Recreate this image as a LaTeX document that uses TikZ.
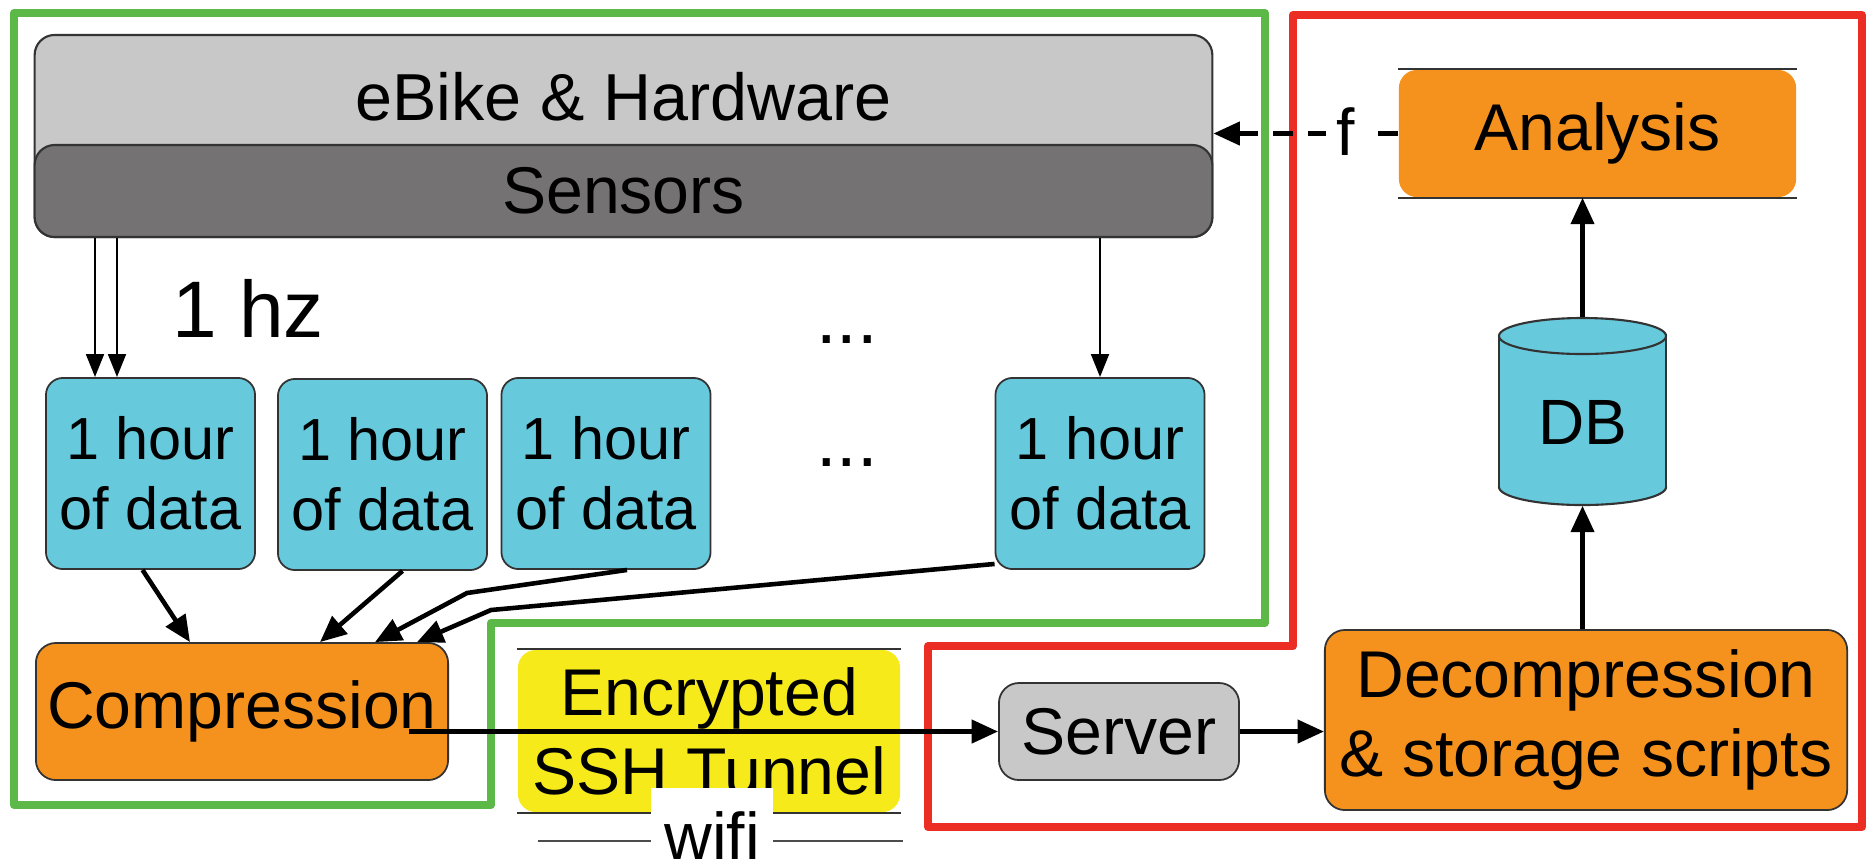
\documentclass[tikz,border=0pt]{standalone}
\usepackage{fontspec}
\setmainfont{Liberation Sans}
\usetikzlibrary{arrows.meta,calc}
\definecolor{cyanb}{HTML}{67C9DC}
\definecolor{orng}{HTML}{F5921E}
\definecolor{yel}{HTML}{F6EA1A}
\definecolor{lgray}{HTML}{C8C8C8}
\definecolor{dgray}{HTML}{747273}
\definecolor{frgreen}{HTML}{5CB948}
\definecolor{frred}{HTML}{EC2D24}
\definecolor{bordc}{HTML}{333333}
\begin{document}
\begin{tikzpicture}[x=0.01cm,y=-0.01cm,
  base/.style={font=\fontsize{18.8}{22.5}\selectfont, inner sep=0pt, align=center},
  plate/.style={base, rounded corners=0.2cm, draw=bordc, line width=0.6pt},
  databox/.style={base, rounded corners=0.17cm, fill=cyanb, draw=bordc, line width=0.5pt,
    minimum width=2.09cm, minimum height=1.91cm, font=\fontsize{16.9}{19.9}\selectfont},
  orangebox/.style={base, rounded corners=0.2cm, fill=orng, draw=bordc, line width=0.5pt},
  graybox/.style={base, rounded corners=0.2cm, fill=lgray, draw=bordc, line width=0.5pt},
  tube/.style={base, rounded corners=0.18cm},
  tubeline/.style={draw=bordc, line width=0.5pt},
  frame/.style={line width=2.3pt, line join=round},
  arr/.style={line width=1.3pt, -{Triangle[length=7.5pt,width=6.5pt]}},
  thinarr/.style={line width=0.8pt, -{Triangle[length=6.5pt,width=5pt]}},
  wifiline/.style={draw=black!70, line width=0.4pt}
]
\useasboundingbox (0,0) rectangle (1874,866);

% frames
\draw[frame, draw=frgreen] (14,13) -- (1265,13) -- (1265,623) -- (491,623) -- (491,805) -- (14,805) -- cycle;
\draw[frame, draw=frred] (1293,15) -- (1862,15) -- (1862,827) -- (928,827) -- (928,646) -- (1293,646) -- cycle;

% eBike and sensors
\node[plate, fill=lgray, minimum width=11.77cm, minimum height=2.02cm] (ebike) at (623.5,136) {};
\node[plate, fill=dgray, minimum width=11.77cm, minimum height=0.92cm] (sensors) at (623.5,191) {Sensors};
\node[base, font=\fontsize{18.9}{22}\selectfont] (ebtxt) at (623.5,97) {eBike \& Hardware};

% data boxes
\node[databox] (d1) at (150.5,473.5) {1 hour\\of data};
\node[databox] (d2) at (382.5,474.5) {1 hour\\of data};
\node[databox] (d3) at (606,473.5) {1 hour\\of data};
\node[databox] (d4) at (1100,473.5) {1 hour\\of data};

\node[base, font=\fontsize{22.8}{27}\selectfont] (hz) at (248,308) {1 hz};
\node[base, font=\fontsize{21}{24}\selectfont] (dots1) at (847,340) {...};
\node[base, font=\fontsize{21}{24}\selectfont] (dots2) at (847,463) {...};

% lower row
\node[orangebox, minimum width=4.12cm, minimum height=1.37cm] (comp) at (242,711.5) {Compression};
\node[tube, fill=yel, minimum width=3.82cm, minimum height=1.62cm] (ssh) at (709,731) {Encrypted\\SSH Tunnel};
\draw[tubeline] (ssh.north west) -- (ssh.north east);
\draw[tubeline] (ssh.south west) -- (ssh.south east);
\node[graybox, minimum width=2.40cm, minimum height=0.97cm] (server) at (1119,731.5) {Server};
\node[orangebox, minimum width=5.22cm, minimum height=1.80cm] (decomp) at (1586,720) {Decompression\\\& storage scripts};

% analysis
\node[tube, fill=orng, minimum width=3.97cm, minimum height=1.27cm] (analysis) at (1597.5,133.5) {Analysis};
\draw[tubeline] (analysis.north west) -- (analysis.north east);
\draw[tubeline] (analysis.south west) -- (analysis.south east);

% DB cylinder
\filldraw[fill=cyanb, draw=bordc, line width=0.6pt] (1582.5,487) ellipse [x radius=0.835cm, y radius=0.18cm];
\fill[cyanb] (1499,336) rectangle (1666,487);
\draw[draw=bordc, line width=0.6pt] (1499,336) -- (1499,487);
\draw[draw=bordc, line width=0.6pt] (1666,336) -- (1666,487);
\filldraw[fill=cyanb, draw=bordc, line width=0.6pt] (1582.5,336) ellipse [x radius=0.835cm, y radius=0.18cm];
\node[inner sep=0pt, minimum width=1.67cm, minimum height=1.87cm] (db) at (1582.5,411.5) {};
\node[base, font=\fontsize{18.2}{22}\selectfont] (dbtxt) at (1582.5,422) {DB};

% connectors
\coordinate (s1) at (95,0);
\coordinate (s2) at (117,0);
\draw[thinarr] (sensors.south -| s1) -- (d1.north -| s1);
\draw[thinarr] (sensors.south -| s2) -- (d1.north -| s2);
\draw[thinarr] (sensors.south -| d4.north) -- (d4.north);

\coordinate (b3) at (467,593);
\coordinate (b4) at (491,610);
\draw[arr] ($(d1.south)+(-8,0)$) -- ($(comp.north west)+(155,0)$);
\draw[arr] ($(d2.south)+(20,0)$) -- ($(comp.north west)+(285,0)$);
\draw[arr] ($(d3.south)+(21,0)$) -- (b3) -- ($(comp.north west)+(340,0)$);
\draw[arr] ($(d4.south west)+(0,-6)$) -- (b4) -- ($(comp.north west)+(382,0)$);

\coordinate (cs) at (409,0);
\draw[arr] (cs |- server.west) -- (server.west);
\draw[arr] (server.east) -- (server.east -| decomp.west);
\draw[arr] (decomp.north -| db.south) -- (db.south);
\draw[arr] (db.north) -- (db.north |- analysis.south);

\draw[arr, dash pattern=on 5.7pt off 4.3pt] (analysis.west) -- (analysis.west -| ebike.east);
\node[base, fill=white, inner xsep=3pt, inner ysep=1pt] (f) at (1346,132) {f};

% wifi
\coordinate (wl) at (538,841);
\coordinate (wr) at (903,841);
\draw[wifiline] (wl) -- (wr);
\node[base, fill=white, minimum width=1.22cm, minimum height=0.96cm] (wifi) at (712,836) {wifi};
\end{tikzpicture}
\end{document}
